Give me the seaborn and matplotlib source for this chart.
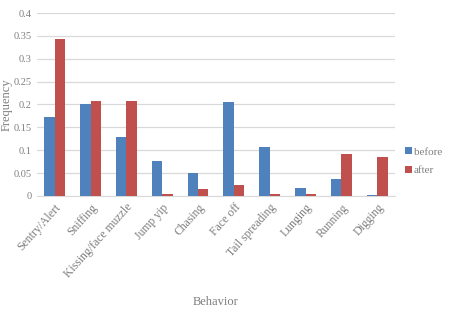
import pandas as pd
import matplotlib.pyplot as plt
import seaborn as sns

behaviors = ['Sentry/Alert', 'Sniffing', 'Kissing/face muzzle', 'Jump yip', 'Chasing',
             'Face off', 'Tail spreading', 'Lunging', 'Running', 'Digging']
before = [0.172, 0.200, 0.128, 0.077, 0.050, 0.205, 0.108, 0.017, 0.036, 0.003]
after = [0.343, 0.208, 0.208, 0.005, 0.016, 0.024, 0.005, 0.005, 0.092, 0.085]

df = pd.DataFrame({
    'Behavior': behaviors * 2,
    'Frequency': before + after,
    'when': ['before'] * len(behaviors) + ['after'] * len(behaviors),
})

sns.set_style('white')
plt.rcParams['font.family'] = ['Liberation Serif', 'DejaVu Serif']
grey = '#7f7f7f'

fig = plt.figure(figsize=(4.49, 3.18), dpi=100)
ax = fig.add_axes([0.082, 0.384, 0.798, 0.575])
sns.barplot(data=df, x='Behavior', y='Frequency', hue='when',
            palette=['#4F81BD', '#C0504D'], width=0.58, gap=0, saturation=1,
            edgecolor='none', linewidth=0, ax=ax, zorder=3)

ax.set_ylim(0, 0.4)
ax.set_yticks([0, 0.05, 0.1, 0.15, 0.2, 0.25, 0.3, 0.35, 0.4])
ax.set_yticklabels(['0', '0.05', '0.1', '0.15', '0.2', '0.25', '0.3', '0.35', '0.4'])
ax.yaxis.grid(True, color='#d9d9d9', lw=0.9, zorder=0)
for s in ['top', 'right', 'left']:
    ax.spines[s].set_visible(False)
ax.spines['bottom'].set_color('#d9d9d9')
ax.tick_params(axis='y', length=0, labelsize=7.5, colors=grey, pad=4)
ax.tick_params(axis='x', length=0, labelsize=8.5, colors=grey, pad=4)
plt.setp(ax.get_xticklabels(), rotation=48, ha='right', rotation_mode='anchor')

ax.set_xlabel('Behavior', fontsize=9, color=grey)
ax.xaxis.set_label_coords(0.5, -0.55)
ax.set_ylabel('Frequency', fontsize=9, color=grey, va='center')
ax.yaxis.set_label_coords(-0.085, 0.5)

ax.legend(loc='center left', bbox_to_anchor=(1.0, 0.19), frameon=False,
          fontsize=8, labelcolor=grey, handlelength=0.6, handleheight=0.6,
          handletextpad=0.2, labelspacing=0.8)

fig.savefig('out.png', dpi=100)
